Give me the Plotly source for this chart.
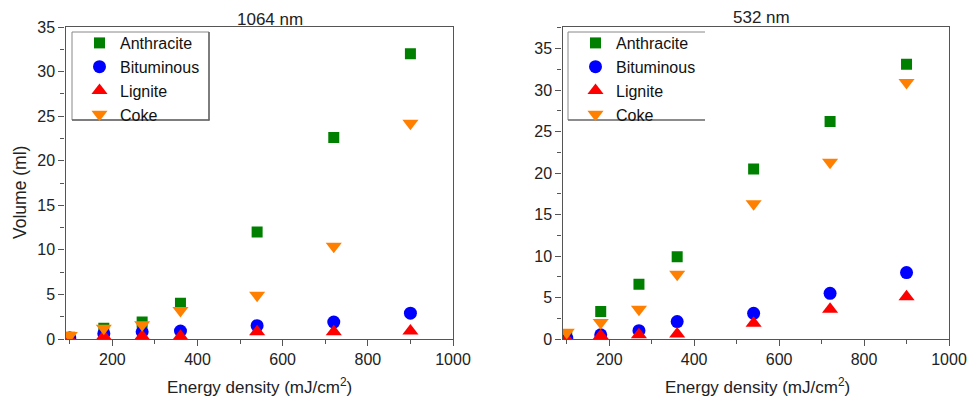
import plotly.graph_objects as go

# ---- data ----
energy = [100, 180, 270, 360, 540, 720, 900]

# 1064 nm
anth_1064 = [0.2, 1.2, 1.9, 4.0, 12.0, 22.6, 32.0]
bitu_1064 = [0.1, 0.6, 0.8, 0.9, 1.5, 1.9, 2.9]
lign_1064 = [0.0, 0.3, 0.3, 0.3, 0.8, 0.8, 0.9]
coke_1064 = [0.4, 1.2, 1.6, 3.2, 4.9, 10.4, 24.2]

# 532 nm
anth_532 = [0.5, 3.3, 6.6, 9.9, 20.5, 26.2, 33.1]
bitu_532 = [0.1, 0.5, 1.0, 2.1, 3.1, 5.5, 8.0]
lign_532 = [0.0, 0.4, 0.5, 0.6, 1.9, 3.6, 5.1]
coke_532 = [0.8, 2.0, 3.6, 7.8, 16.3, 21.3, 30.9]

names = ["Anthracite", "Bituminous", "Lignite", "Coke"]
colors = ["#008000", "#0000FF", "#FF0000", "#FF8000"]
symbols = ["square", "circle", "triangle-up", "triangle-down"]
sizes = [11, 13, 14, 14]

FONT = "Liberation Sans, Arial, sans-serif"
W, H = 969, 396

fig = go.Figure()
sets = [
    ([anth_1064, bitu_1064, lign_1064, coke_1064], "x", "y", "legend"),
    ([anth_532, bitu_532, lign_532, coke_532], "x2", "y2", "legend2"),
]
for series, xa, ya, lg in sets:
    for vals, nm, c, s, sz in zip(series, names, colors, symbols, sizes):
        fig.add_trace(go.Scatter(
            x=energy, y=vals, mode="markers", name=nm,
            marker=dict(color=c, symbol=s, size=sz, line=dict(width=0)),
            xaxis=xa, yaxis=ya, legend=lg, cliponaxis=True,
        ))

def px_x(p):
    return p / W

def px_y(p):
    return 1 - p / H

axis_common = dict(
    showline=True, linecolor="#555555", linewidth=1.3, mirror=True,
    showgrid=False, zeroline=False, ticks="outside", ticklen=6,
    tickcolor="#555555", tickwidth=1,
    tickfont=dict(family=FONT, size=16, color="#222222"),
    automargin=False,
)

legend_common = dict(
    xanchor="left", yanchor="top", borderwidth=0, bgcolor="rgba(0,0,0,0)",
    font=dict(family=FONT, size=16, color="#111111"),
    itemwidth=31, tracegroupgap=0,
)

y_dom = [px_y(339), px_y(27)]
fig.update_layout(
    width=W, height=H,
    margin=dict(l=0, r=0, t=0, b=0),
    paper_bgcolor="white", plot_bgcolor="white",
    font=dict(family=FONT, color="#222222"),
    showlegend=True,
    xaxis=dict(domain=[px_x(65.5), px_x(453)], range=[90, 1000],
               tickvals=[200, 400, 600, 800, 1000],
               minor=dict(tickvals=[100, 300, 500, 700, 900], ticks="outside",
                          ticklen=4, tickcolor="#555555"),
               anchor="y", **axis_common),
    yaxis=dict(domain=y_dom, range=[0, 35], dtick=5, tick0=0,
               minor=dict(dtick=2.5, ticks="outside", ticklen=4, tickcolor="#555555"),
               anchor="x", **axis_common),
    xaxis2=dict(domain=[px_x(562.5), px_x(949)], range=[90, 1000],
                tickvals=[200, 400, 600, 800, 1000],
                minor=dict(tickvals=[100, 300, 500, 700, 900], ticks="outside",
                           ticklen=4, tickcolor="#555555"),
                anchor="y2", **axis_common),
    yaxis2=dict(domain=y_dom, range=[0, 37.6], dtick=5, tick0=0,
                minor=dict(dtick=2.5, ticks="outside", ticklen=4, tickcolor="#555555"),
                anchor="x2", **axis_common),
    legend=dict(x=px_x(79), y=px_y(26), **legend_common),
    legend2=dict(x=px_x(575), y=px_y(26), **legend_common),
)

# legend frames
shapes = [
    dict(type="rect", xref="paper", yref="paper",
         x0=px_x(72), x1=px_x(209), y0=px_y(120), y1=px_y(32),
         line=dict(color="#888888", width=1)),
    dict(type="line", xref="paper", yref="paper",
         x0=px_x(209), x1=px_x(209), y0=px_y(120.5), y1=px_y(32),
         line=dict(color="#666666", width=1.5)),
    dict(type="line", xref="paper", yref="paper",
         x0=px_x(72), x1=px_x(209.5), y0=px_y(120), y1=px_y(120),
         line=dict(color="#666666", width=1.5)),
    dict(type="line", xref="paper", yref="paper",
         x0=px_x(568), x1=px_x(705), y0=px_y(32), y1=px_y(32),
         line=dict(color="#888888", width=1)),
    dict(type="line", xref="paper", yref="paper",
         x0=px_x(568), x1=px_x(568), y0=px_y(120), y1=px_y(32),
         line=dict(color="#888888", width=1)),
    dict(type="line", xref="paper", yref="paper",
         x0=px_x(568), x1=px_x(705), y0=px_y(120), y1=px_y(120),
         line=dict(color="#666666", width=1.5)),
]

ann_font = dict(family=FONT, size=17, color="#222222")
annotations = [
    dict(text="1064 nm", x=px_x(270), y=px_y(19), xref="paper", yref="paper",
         showarrow=False, font=ann_font, xanchor="center", yanchor="middle"),
    dict(text="532 nm", x=px_x(761), y=px_y(18), xref="paper", yref="paper",
         showarrow=False, font=ann_font, xanchor="center", yanchor="middle"),
    dict(text="Energy density (mJ/cm<sup>2</sup>)", x=px_x(259), y=px_y(386),
         xref="paper", yref="paper", showarrow=False, font=ann_font,
         xanchor="center", yanchor="middle"),
    dict(text="Energy density (mJ/cm<sup>2</sup>)", x=px_x(757), y=px_y(386),
         xref="paper", yref="paper", showarrow=False, font=ann_font,
         xanchor="center", yanchor="middle"),
    dict(text="Volume (ml)", x=px_x(20), y=px_y(193), xref="paper", yref="paper",
         showarrow=False, font=dict(family=FONT, size=17.5, color="#222222"),
         textangle=-90, xanchor="center", yanchor="middle"),
]
fig.update_layout(annotations=annotations, shapes=shapes)

fig.write_html("out.html",
               config={"displayModeBar": False},
               post_script="document.body.style.margin='0px';"
                           "document.body.style.overflow='hidden';")
